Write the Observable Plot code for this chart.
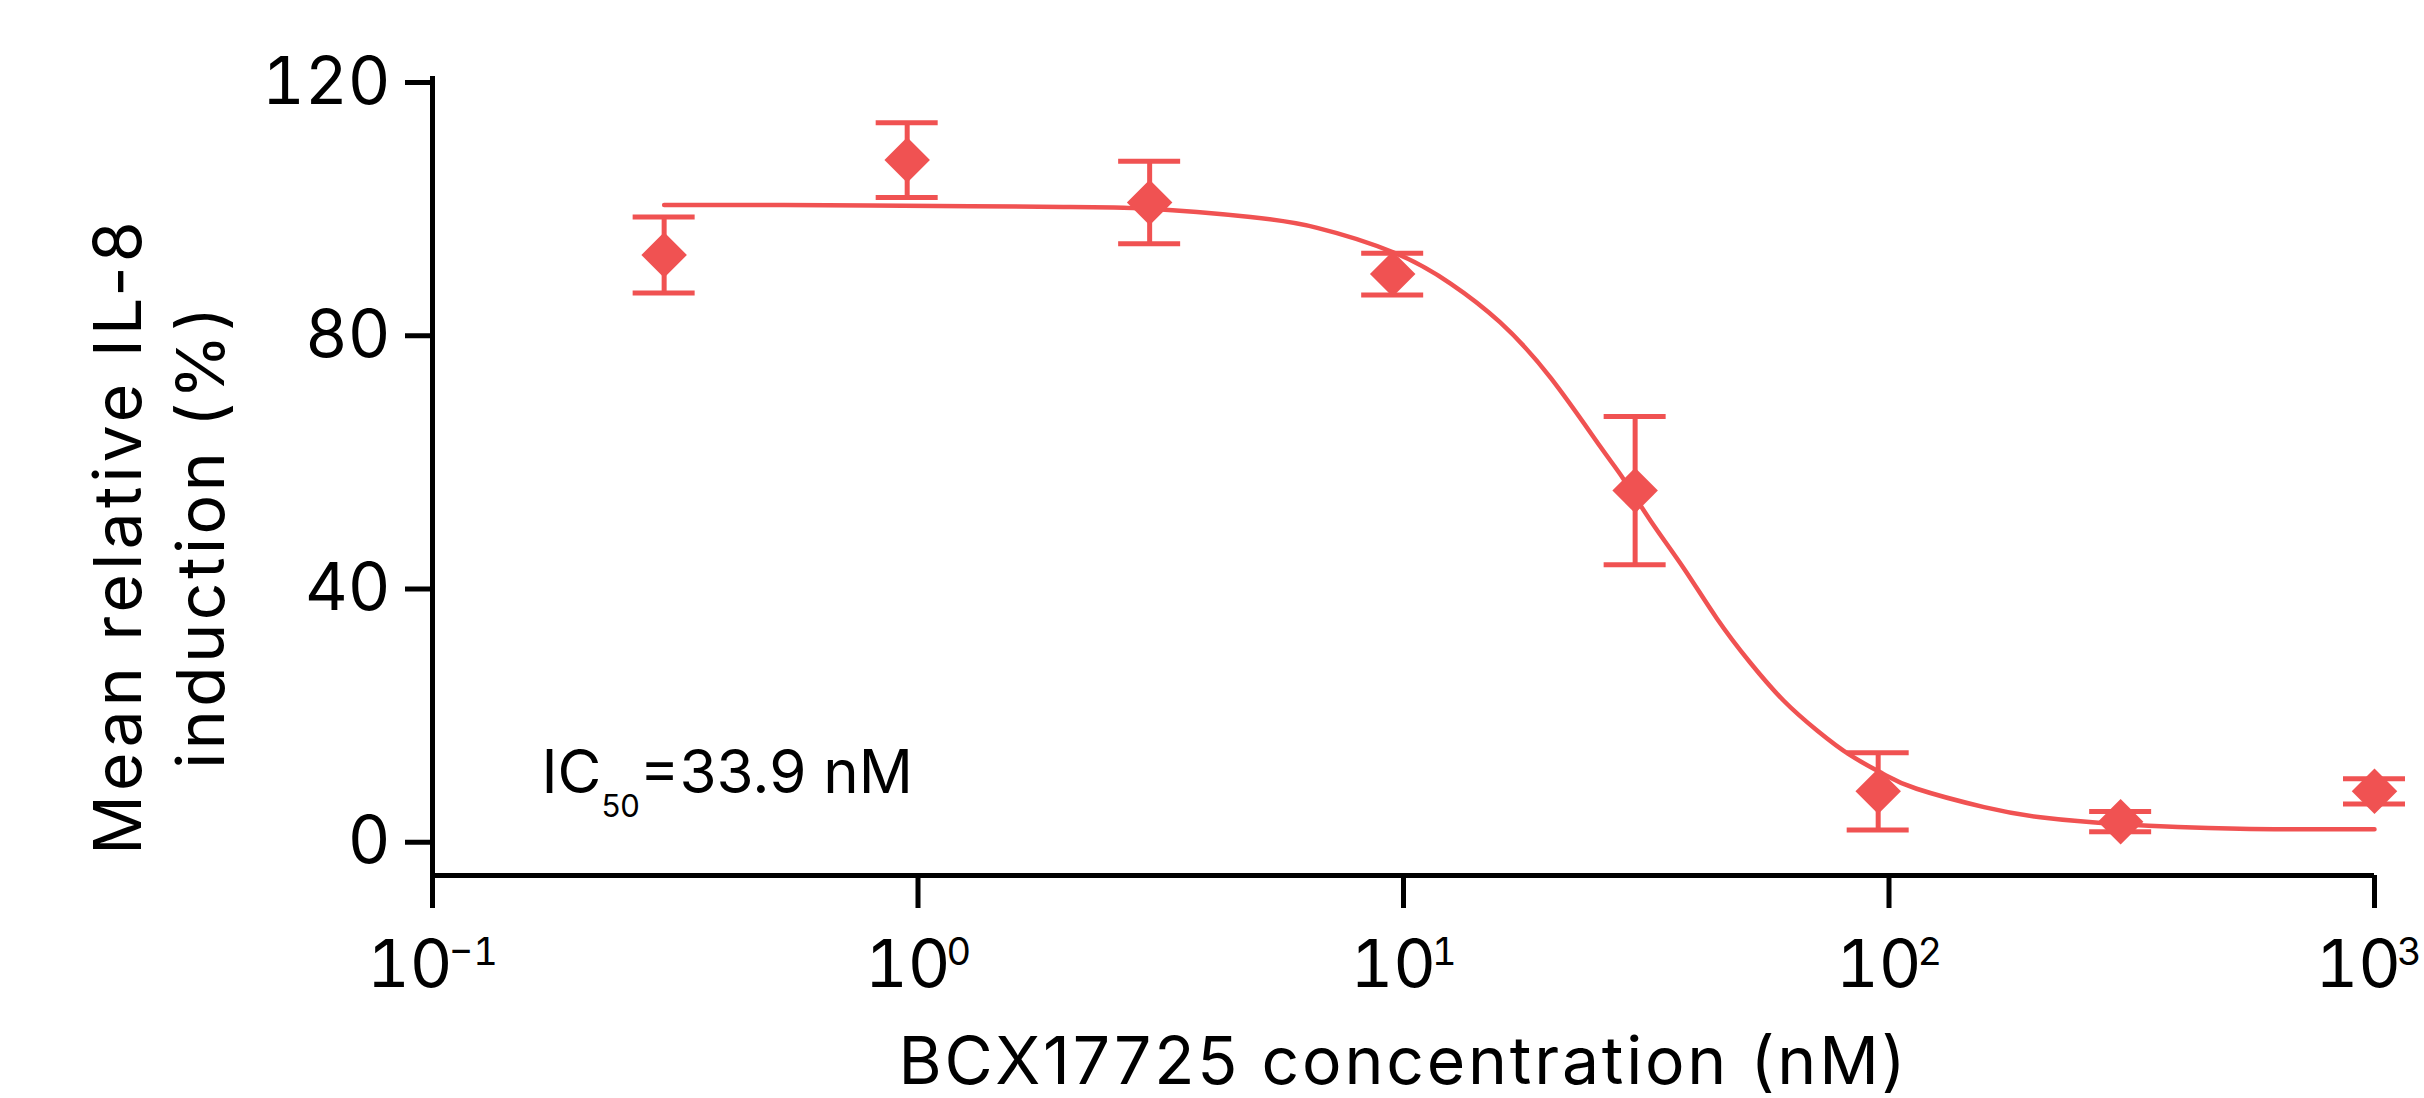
<!DOCTYPE html>
<html>
<head>
<meta charset="utf-8">
<script src="https://cdn.jsdelivr.net/npm/d3@7"></script>
<script src="https://cdn.jsdelivr.net/npm/@observablehq/plot@0.6"></script>
<style>
  html, body { margin: 0; padding: 0; background: #fff; overflow: hidden; }
</style>
</head>
<body>
<div id="chart"></div>
<script>
// ---- data ----
const conc    = [0.3, 0.95, 3, 9.5, 30, 95, 300, 1000];          // nM
const meanPct = [91.8, 106.8, 100.1, 88.8, 54.6, 7.1, 2.3, 7.1];  // mean relative IL-8 induction (%)
const errPct  = [6.0, 5.9, 6.5, 3.3, 11.7, 6.1, 1.6, 2.0];        // error bar half-length

// fitted curve
const fitConc = [0.3, 0.53, 1.28, 2.03, 3.0, 4.84, 6.64, 9.55, 12.5, 15.8, 20.1, 25.4, 28.4, 32.3, 37.8, 44.2, 51.8, 60.7, 71.1, 83.2, 97.5, 114, 157, 205, 300, 528, 1000];
const fitPct  = [99.7, 99.7, 99.5, 99.4, 99.1, 97.8, 96.1, 92.2, 87.3, 81.2, 72.4, 61.6, 56.4, 49.8, 42.3, 34.4, 27.4, 21.4, 16.7, 12.8, 9.8, 7.5, 4.6, 3.0, 1.9, 1.2, 1.1];

const xTicks = [0.1, 1, 10, 100, 1000];
const yTicks = [0, 40, 80, 120];
const yLabelLines = ["Mean relative IL-8", "induction (%)"];
const xLabel = "BCX17725 concentration (nM)";
const icLabel = ["IC", "50", "=33.9 nM"];

const points = conc.map((c, i) => ({x: c, y: meanPct[i], lo: meanPct[i] - errPct[i], hi: meanPct[i] + errPct[i]}));
const fit = fitConc.map((c, i) => ({x: c, y: fitPct[i]}));

const red = "#F05252";
const yMin = -6.2;

const chart = Plot.plot({
  width: 2424,
  height: 1098,
  marginLeft: 432,
  marginRight: 50,
  marginTop: 76,
  marginBottom: 223,
  x: {type: "log", domain: [0.1, 1000]},
  y: {domain: [yMin, 120]},
  style: {fontFamily: "Inter, 'Open Sans', sans-serif", fontSize: "66px", color: "#000", background: "#fff"},
  marks: [
    Plot.ruleX([0.1], {strokeWidth: 5}),
    Plot.ruleY([yMin], {strokeWidth: 5}),
    Plot.axisY({ticks: yTicks, tickSize: 27, tickPadding: 15, strokeWidth: 5, label: null, fontSize: 66, dy: 6}),
    Plot.axisX({ticks: xTicks, tickSize: 33, tickPadding: 32, strokeWidth: 5, label: null, fontSize: 66,
      tickFormat: d => "10^" + (Math.round(Math.log10(d)) < 0 ? "\u2212" + Math.abs(Math.round(Math.log10(d))) : Math.round(Math.log10(d)))}),
    Plot.line(fit, {x: "x", y: "y", curve: "natural", stroke: red, strokeWidth: 4.5}),
    Plot.ruleX(points, {x: "x", y1: "lo", y2: "hi", stroke: red, strokeWidth: 5}),
    Plot.ruleY(points, {y: "hi", x1: "x", x2: "x", insetLeft: -31, insetRight: -31, stroke: red, strokeWidth: 5}),
    Plot.ruleY(points, {y: "lo", x1: "x", x2: "x", insetLeft: -31, insetRight: -31, stroke: red, strokeWidth: 5}),
    Plot.dot(points, {x: "x", y: "y", symbol: "diamond2", r: 20.5, fill: red, stroke: "none"}),
    Plot.text([yLabelLines[0]], {frameAnchor: "left", rotate: -90, dx: -292, dy: 60, lineAnchor: "bottom", textAnchor: "middle", fontSize: 66}),
    Plot.text([yLabelLines[1]], {frameAnchor: "left", rotate: -90, dx: -209, dy: 60, lineAnchor: "bottom", textAnchor: "middle", fontSize: 66}),
    Plot.text([xLabel], {frameAnchor: "bottom", dy: 208, lineAnchor: "bottom", textAnchor: "middle", fontSize: 66}),
    Plot.text([icLabel.join("")], {frameAnchor: "bottom-left", dx: 109, dy: -83, lineAnchor: "bottom", textAnchor: "start", fontSize: 60})
  ]
});

const ns = "http://www.w3.org/2000/svg";
function span(text, attrs) {
  const s = document.createElementNS(ns, "tspan");
  for (const k in attrs) s.setAttribute(k, attrs[k]);
  s.textContent = text;
  return s;
}
// superscript exponents on x tick labels, subscript in IC50, label spacing
chart.querySelectorAll("text").forEach(t => {
  const s = t.textContent;
  if (s.startsWith("10^")) {
    const [base, exp] = s.split("^");
    t.textContent = "";
    t.append(span(base, exp === "3" ? {dx: "-6"} : {}));
    t.append(span(exp, {dx: "-4", dy: "-22", "font-size": "38"}));
  } else if (s === icLabel.join("")) {
    t.textContent = "";
    t.append(span(icLabel[0], {}));
    t.append(span(icLabel[1], {dy: "24", "font-size": "31"}));
    t.append(span(icLabel[2], {dy: "-24"}));
  } else if (s === xLabel) {
    t.setAttribute("letter-spacing", "2.8");
  } else if (s === yLabelLines[0]) {
    t.setAttribute("letter-spacing", "4.2");
  } else if (s === yLabelLines[1]) {
    t.setAttribute("letter-spacing", "3.5");
  }
});
document.getElementById("chart").append(chart);
</script>
</body>
</html>
